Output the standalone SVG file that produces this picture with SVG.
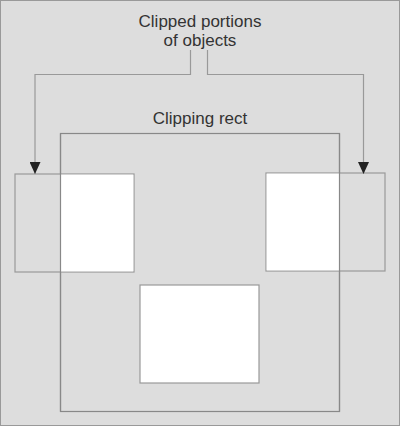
<svg xmlns="http://www.w3.org/2000/svg" width="400" height="426" viewBox="0 0 400 426">
<style>
.lbl{font-family:"Liberation Sans",Arial,sans-serif;font-size:17px;fill:#333;text-anchor:middle}
.obj{stroke:#999;stroke-width:1.2}
.con{fill:none;stroke:#999;stroke-width:1.2}
</style>
<defs>
<marker id="arr" markerWidth="12" markerHeight="11" refX="12" refY="5.5" orient="auto" markerUnits="userSpaceOnUse" viewBox="0 0 12 11">
<path d="M0,0 L12,5.5 L0,11 Z" fill="#222"/>
</marker>
</defs>
<rect x="0.5" y="0.5" width="399" height="425" fill="#dddddd" stroke="#999" stroke-width="1"/>
<g id="title">
<text class="lbl" x="200" y="27">Clipped portions</text>
<text class="lbl" x="200" y="46">of objects</text>
</g>
<g id="clip-rect">
<text class="lbl" x="200" y="124">Clipping rect</text>
<rect x="60.5" y="133.5" width="279" height="278" fill="none" stroke="#888" stroke-width="1.2"/>
</g>
<g id="obj-left">
<rect class="obj" x="15" y="174" width="119" height="98" fill="#dddddd"/>
<rect x="60.5" y="174.6" width="72.9" height="96.8" fill="#fff"/>
</g>
<g id="obj-right">
<rect class="obj" x="266" y="173" width="119" height="98" fill="#dddddd"/>
<rect x="266.6" y="173.6" width="72.9" height="96.8" fill="#fff"/>
</g>
<g id="obj-bottom">
<rect class="obj" x="140" y="285" width="119" height="98" fill="#fff"/>
</g>
<g id="clip-lines">
<line x1="60.5" y1="133.5" x2="60.5" y2="411.5" stroke="#888" stroke-width="1.2"/>
<line x1="339.5" y1="133.5" x2="339.5" y2="411.5" stroke="#888" stroke-width="1.2"/>
</g>
<g id="connectors">
<path class="con" d="M190.5,50 V74.5 H35 V174" marker-end="url(#arr)"/>
<path class="con" d="M207.5,50 V74.5 H363.5 V174" marker-end="url(#arr)"/>
</g>
</svg>
